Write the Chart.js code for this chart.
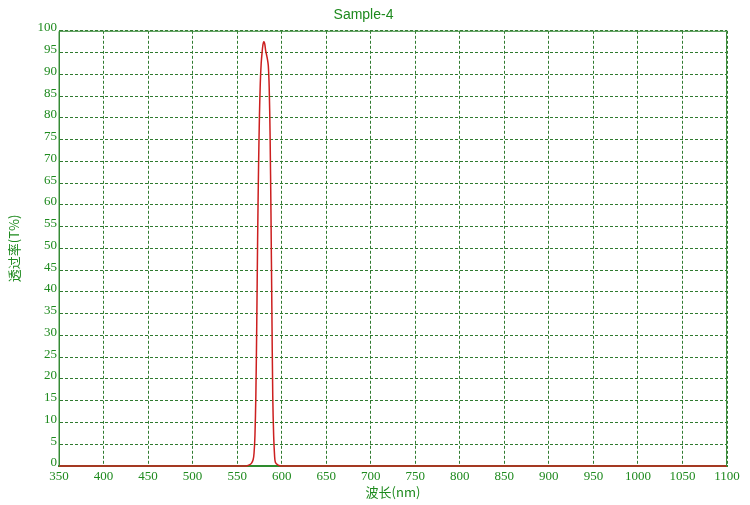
<!DOCTYPE html>
<html>
<head>
<meta charset="utf-8">
<script src="https://cdn.jsdelivr.net/npm/chart.js@4/dist/chart.umd.min.js"></script>
<style>
  body{margin:0;background:#fff;}
  #wrap{width:750px;height:505px;}
</style>
</head>
<body>
<div id="wrap"><canvas id="myChart"></canvas></div>
<script>
'use strict';
// wavelength (nm) and transmittance (T%)
let wavelengths=[350,400,500,550,560,563,566,568,569,570,571,572,573,574,575,576,577,578,579,580,581,582,583,584,585,586,587,588,589,590,591,592,593,596,600,700,800,900,1000,1100];
let transmit=[0,0,0,0,0,0.2,0.6,1.5,3,7,16,32,52,68,80,88,92.5,95,96.8,97.5,97,95.5,94.5,93.5,92,87,76,58,36,16,7,2.5,0.8,0.2,0,0,0,0,0,0];
let xTicks=[350,1100,50];
let yTicks=[0,100,5];

let green='#1e8a1e';
let gridGreen='#2f7a2f';
let points=[];
for(let i=0;i<wavelengths.length;i++){
  points.push({x:wavelengths[i],y:transmit[i]});
}

let frame={
  id:'frame',
  afterDatasetsDraw(chart){
    let a=chart.chartArea;
    let c=chart.ctx;
    c.save();
    c.strokeStyle='#3c8c3c';
    c.lineWidth=1;
    c.beginPath();
    c.moveTo(a.left,a.bottom);
    c.lineTo(a.left,a.top+0.5);
    c.lineTo(a.right-0.5,a.top+0.5);
    c.lineTo(a.right-0.5,a.bottom);
    c.stroke();
    c.restore();
  }
};

let ctx=document.getElementById('myChart');
let myChart=new Chart(ctx,{
  type:'line',
  data:{
    datasets:[{
      label:'Sample-4',
      data:points,
      borderColor:'#cc1f1f',
      borderWidth:1.5,
      pointRadius:0,
      tension:0.3,
      clip:false
    }]
  },
  options:{
    responsive:true,
    maintainAspectRatio:false,
    animation:false,
    layout:{padding:{left:0,right:23,top:0,bottom:0}},
    plugins:{
      legend:{display:false},
      tooltip:{enabled:false},
      title:{
        display:true,
        text:'Sample-4',
        color:green,
        font:{family:'"Liberation Sans", Arial',size:14,weight:'normal'},
        padding:{top:7,bottom:7}
      }
    },
    scales:{
      x:{
        type:'linear',
        min:xTicks[0],
        max:xTicks[1],
        ticks:{stepSize:xTicks[2],color:green,padding:3,font:{family:'"Liberation Serif", serif',size:13},
          callback:function(v){return String(v);}},
        grid:{color:gridGreen,drawTicks:false,lineWidth:1},
        border:{color:'#2e8b2e',width:2,dash:[3,2]},
        title:{display:true,text:'波长(nm)',color:green,font:{family:'"Noto Sans CJK SC", "Liberation Serif", serif',size:13},padding:{top:0,bottom:5}},
        afterFit(scale){scale.height=39;}
      },
      y:{
        min:yTicks[0],
        max:yTicks[1],
        ticks:{stepSize:yTicks[2],color:green,padding:2,labelOffset:-3,font:{family:'"Liberation Serif", serif',size:13}},
        grid:{color:gridGreen,drawTicks:false,lineWidth:1},
        border:{color:'#2e8b2e',width:1,dash:[3,2]},
        title:{display:true,text:'透过率(T%)',color:green,font:{family:'"Noto Sans CJK SC", "Liberation Serif", serif',size:13},padding:{top:6,bottom:2}},
        afterFit(scale){scale.width=59;}
      }
    }
  },
  plugins:[frame]
});
</script>
</body>
</html>
